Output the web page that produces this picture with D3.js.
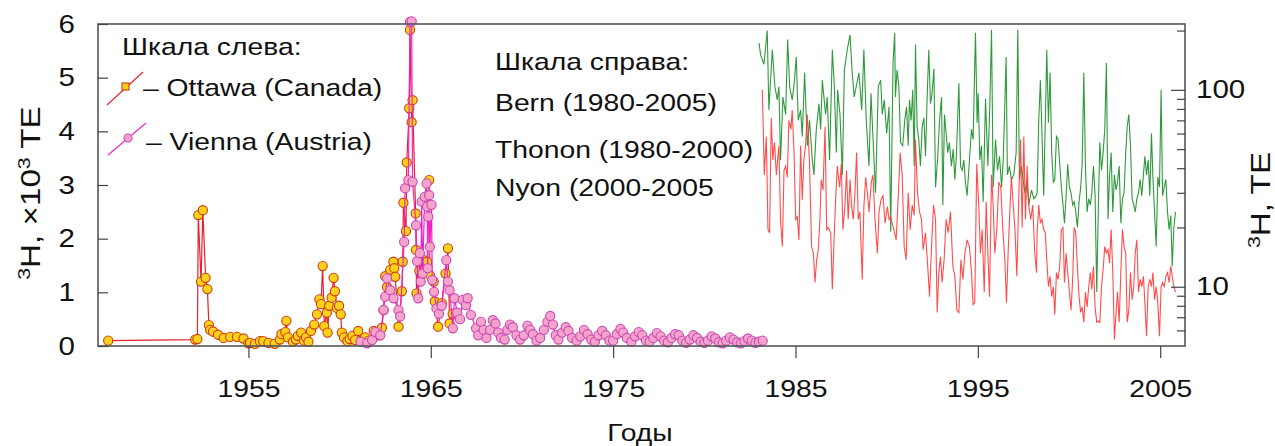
<!DOCTYPE html>
<html><head><meta charset="utf-8">
<script src="https://cdn.jsdelivr.net/npm/d3@7"></script>
<style>
body{margin:0;background:#fff}
text{font-family:"Liberation Sans",Arial,sans-serif;fill:#111}
</style>
</head><body>
<svg id="c" width="1275" height="446"></svg>
<script>
// ---------- DATA ----------
const xTicks = [1955, 1965, 1975, 1985, 1995, 2005];
const leftTicks = [0, 1, 2, 3, 4, 5, 6];
const rightMajor = [10, 100];
const rightMinor = [6, 7, 8, 9, 20, 30, 40, 50, 60, 70, 80, 90, 200];

// Ottawa (Canada), x10^3 TE  [year, value]
const ottawa = [
[1947.31,0.10],[1952.08,0.12],[1952.20,0.13],[1952.25,2.44],[1952.40,1.20],[1952.50,2.53],[1952.65,1.27],[1952.75,1.06],
[1952.83,0.39],[1952.90,0.30],[1953.06,0.27],[1953.33,0.21],[1953.64,0.15],[1954.00,0.17],[1954.37,0.17],[1954.73,0.14],
[1955.00,0.05],[1955.09,0.06],[1955.36,0.04],[1955.63,0.09],[1955.81,0.09],[1956.10,0.06],[1956.44,0.04],[1956.72,0.12],
[1956.81,0.22],[1957.02,0.26],[1957.08,0.47],[1957.17,0.16],[1957.44,0.08],[1957.60,0.12],[1957.71,0.19],[1957.89,0.25],
[1958.05,0.10],[1958.16,0.16],[1958.29,0.08],[1958.43,0.28],[1958.61,0.40],[1958.76,0.59],[1958.89,0.87],[1958.98,0.78],
[1959.07,1.49],[1959.16,0.37],[1959.30,0.62],[1959.34,0.25],[1959.43,0.75],[1959.56,0.90],[1959.67,1.27],[1959.74,1.02],
[1959.85,0.71],[1959.97,0.75],[1960.06,0.59],[1960.12,0.25],[1960.24,0.16],[1960.43,0.09],[1960.55,0.13],[1960.70,0.19],
[1960.85,0.11],[1961.02,0.28],[1961.20,0.10],[1961.40,0.16],[1961.60,0.10],[1961.87,0.28],[1962.10,0.20],[1962.32,0.34],
[1962.41,0.67],[1962.50,1.30],[1962.60,1.10],[1962.78,1.42],[1962.95,1.57],[1963.00,1.45],[1963.05,1.29],[1963.23,0.36],
[1963.41,1.02],[1963.46,1.57],[1963.50,2.67],[1963.64,2.14],[1963.68,3.42],[1963.82,4.43],[1963.86,5.89],[1963.95,4.17],
[1964.00,4.58],[1964.17,2.47],[1964.19,1.79],[1964.22,0.98],[1964.37,1.40],[1964.60,1.60],[1964.80,1.57],[1964.91,3.09],
[1964.95,1.32],[1965.16,1.20],[1965.22,0.83],[1965.40,0.36],[1965.60,0.80],[1965.81,1.35],[1965.94,1.82],[1966.03,0.42],
[1966.20,0.60]
];

// Vienna (Austria), x10^3 TE  [year, value]
const vienna = [
[1961.15,0.08],[1961.51,0.05],[1961.78,0.11],[1961.96,0.26],[1962.23,0.20],[1962.41,0.67],[1962.50,0.92],[1962.60,1.26],
[1962.78,1.04],[1962.96,0.89],[1963.23,0.67],[1963.32,0.55],[1963.54,1.94],[1963.59,2.94],[1963.77,3.09],[1963.86,6.04],
[1963.95,6.05],[1964.00,3.06],[1964.19,2.25],[1964.25,1.58],[1964.31,0.89],[1964.40,1.73],[1964.45,1.20],[1964.50,2.69],
[1964.55,1.35],[1964.67,2.78],[1964.77,3.03],[1964.80,2.60],[1964.83,1.45],[1964.86,2.41],[1964.91,2.81],[1964.95,1.85],
[1965.04,2.63],[1965.08,1.23],[1965.18,1.01],[1965.31,0.70],[1965.45,0.60],[1965.60,0.75],[1965.85,1.60],[1965.94,1.20],
[1966.03,1.04],[1966.21,0.33],[1966.30,0.89],[1966.45,0.62],[1966.60,0.50],[1966.75,0.86],[1966.93,0.76],[1967.02,0.89],
[1967.20,0.58],[1967.48,0.33],[1967.60,0.20],[1967.75,0.45],[1967.90,0.30],[1968.05,0.15],[1968.25,0.30],[1968.40,0.48],
[1968.55,0.42],[1968.70,0.25],[1968.85,0.15],[1969.05,0.12],[1969.20,0.30],[1969.35,0.40],[1969.50,0.35],[1969.70,0.20],
[1969.90,0.12],[1970.10,0.20],[1970.30,0.38],[1970.45,0.30],[1970.60,0.22],[1970.80,0.10],[1971.00,0.15],[1971.20,0.30],
[1971.40,0.45],[1971.55,0.56],[1971.70,0.40],[1971.85,0.20],[1972.00,0.12],[1972.20,0.25],[1972.40,0.35],[1972.55,0.28],
[1972.75,0.15],[1973.00,0.10],[1973.20,0.18],[1973.40,0.30],[1973.60,0.22],[1973.80,0.12],[1974.00,0.08],[1974.20,0.20],
[1974.40,0.28],[1974.60,0.20],[1974.80,0.10],[1975.00,0.10],[1975.20,0.22],[1975.40,0.32],[1975.55,0.25],[1975.75,0.15],
[1976.00,0.08],[1976.20,0.18],[1976.40,0.26],[1976.60,0.20],[1976.80,0.10],[1977.00,0.08],[1977.20,0.15],[1977.40,0.24],
[1977.60,0.18],[1977.80,0.10],[1978.00,0.07],[1978.20,0.15],[1978.40,0.22],[1978.60,0.20],[1978.80,0.10],[1979.00,0.06],
[1979.20,0.12],[1979.40,0.20],[1979.60,0.15],[1979.80,0.08],[1980.00,0.06],[1980.20,0.10],[1980.40,0.18],[1980.60,0.14],
[1980.80,0.07],[1981.00,0.05],[1981.20,0.10],[1981.40,0.16],[1981.60,0.12],[1981.80,0.07],[1982.00,0.05],[1982.20,0.09],
[1982.40,0.14],[1982.60,0.10],[1982.80,0.06],[1983.00,0.08],[1983.20,0.10]
];

// Bern, TE (right log scale)  [year, value]
const bern = [
[1983.00,173],[1983.09,150],[1983.27,135],[1983.45,200],[1983.54,79],[1983.73,160],[1983.87,104],[1984.00,89],
[1984.09,104],[1984.18,44],[1984.31,92],[1984.46,75],[1984.57,180],[1984.68,104],[1984.82,89],[1984.93,108],
[1985.04,147],[1985.15,70],[1985.28,79],[1985.37,58],[1985.50,122],[1985.65,52],[1985.77,70],[1985.92,44],
[1986.01,37],[1986.14,63],[1986.29,85],[1986.38,63],[1986.47,112],[1986.65,75],[1986.74,92],[1986.87,44],
[1987.02,160],[1987.13,104],[1987.24,48],[1987.31,100],[1987.44,75],[1987.57,37],[1987.68,126],[1987.84,160],
[1987.99,190],[1988.11,122],[1988.22,92],[1988.33,104],[1988.48,122],[1988.63,79],[1988.75,160],[1988.88,70],
[1989.03,41],[1989.14,96],[1989.27,52],[1989.39,30],[1989.54,104],[1989.67,112],[1989.76,75],[1989.87,89],
[1990.00,60],[1990.13,82],[1990.22,19],[1990.35,137],[1990.44,195],[1990.48,92],[1990.57,126],[1990.67,104],
[1990.76,54],[1990.88,52],[1990.99,70],[1991.09,82],[1991.18,52],[1991.25,89],[1991.34,70],[1991.43,100],
[1991.51,41],[1991.58,170],[1991.67,65],[1991.76,56],[1991.85,41],[1991.95,65],[1992.04,72],[1992.13,46],
[1992.22,92],[1992.31,160],[1992.40,85],[1992.49,96],[1992.59,128],[1992.68,32],[1992.79,44],[1992.90,70],
[1993.01,92],[1993.08,26],[1993.17,75],[1993.26,60],[1993.35,48],[1993.44,54],[1993.55,41],[1993.65,50],
[1993.74,35],[1993.83,48],[1993.96,108],[1994.05,41],[1994.14,39],[1994.23,44],[1994.32,34],[1994.41,29],
[1994.54,44],[1994.65,63],[1994.74,56],[1994.87,195],[1994.96,68],[1995.02,96],[1995.11,44],[1995.20,52],
[1995.29,27],[1995.42,90],[1995.55,41],[1995.66,85],[1995.75,202],[1995.84,32],[1995.97,56],[1996.08,39],
[1996.19,46],[1996.30,32],[1996.39,44],[1996.48,85],[1996.55,147],[1996.62,37],[1996.73,41],[1996.84,35],
[1996.97,37],[1997.10,48],[1997.19,202],[1997.28,35],[1997.39,41],[1997.48,35],[1997.58,30],[1997.69,35],
[1997.79,26],[1997.94,31],[1998.07,28],[1998.20,29],[1998.25,30],[1998.34,70],[1998.43,112],[1998.52,58],
[1998.61,29],[1998.70,70],[1998.78,160],[1998.87,68],[1998.96,122],[1999.05,48],[1999.14,34],[1999.22,35],
[1999.31,58],[1999.40,56],[1999.49,42],[1999.58,32],[1999.67,26],[1999.75,21],[1999.84,29],[1999.93,42],
[2000.02,32],[2000.11,30],[2000.20,26],[2000.28,27],[2000.37,24],[2000.46,20],[2000.55,27],[2000.64,32],
[2000.72,42],[2000.81,122],[2000.90,41],[2000.99,24],[2001.08,28],[2001.17,26],[2001.25,30],[2001.34,41],
[2001.43,29],[2001.52,9.4],[2001.61,26],[2001.69,54],[2001.78,39],[2001.87,48],[2001.96,63],[2002.05,137],
[2002.14,22],[2002.22,36],[2002.31,48],[2002.40,24],[2002.49,37],[2002.58,31],[2002.66,34],[2002.75,41],
[2002.84,21],[2002.93,28],[2003.02,30],[2003.11,48],[2003.19,65],[2003.28,75],[2003.37,52],[2003.46,28],
[2003.55,26],[2003.63,24],[2003.72,28],[2003.81,30],[2003.90,35],[2003.99,29],[2004.08,37],[2004.16,46],
[2004.25,37],[2004.34,44],[2004.43,29],[2004.52,60],[2004.60,36],[2004.69,24],[2004.78,16],[2004.87,36],
[2004.96,32],[2005.05,100],[2005.13,29],[2005.22,32],[2005.31,35],[2005.40,24],[2005.49,19.5],[2005.58,23],
[2005.66,12.7],[2005.75,20],[2005.84,24]
];

// Thonon (to 2000) and Nyon (2000-2005), TE  [year, value]
const thonon = [
[1983.18,100],[1983.29,37],[1983.40,58],[1983.49,19.5],[1983.58,18.8],[1983.67,72],[1983.76,44],[1983.85,54],
[1983.95,37],[1984.09,52],[1984.18,21.9],[1984.28,16],[1984.37,39],[1984.46,41],[1984.55,36],[1984.64,70],
[1984.75,63],[1984.82,79],[1984.92,48],[1985.01,22],[1985.10,22.7],[1985.19,17.3],[1985.28,52],[1985.37,27.7],
[1985.46,44],[1985.55,52],[1985.65,75],[1985.77,42],[1985.88,16],[1985.98,14.8],[1986.07,10.5],[1986.16,13.7],
[1986.25,15.4],[1986.34,21.9],[1986.41,35],[1986.51,31],[1986.62,65],[1986.71,19.5],[1986.80,20],[1986.93,18.8],
[1987.02,9.7],[1987.11,16.8],[1987.20,27.7],[1987.29,41],[1987.42,32],[1987.51,42],[1987.60,19.5],[1987.71,25.5],
[1987.80,39],[1987.89,22],[1987.99,35],[1988.08,25.5],[1988.17,22],[1988.26,30],[1988.35,48],[1988.44,22],
[1988.53,24],[1988.66,10.9],[1988.75,25.5],[1988.85,36],[1988.94,30],[1989.03,24],[1989.16,34],[1989.25,37],
[1989.36,22],[1989.49,14.8],[1989.58,24],[1989.69,27.7],[1989.80,29],[1989.91,21],[1990.04,25.5],[1990.13,22],
[1990.22,22.7],[1990.30,21],[1990.39,19.5],[1990.52,17.3],[1990.63,28],[1990.74,48],[1990.85,37],[1990.96,16],
[1991.07,13.7],[1991.18,30],[1991.29,19.5],[1991.40,26],[1991.51,23],[1991.58,56],[1991.69,30],[1991.80,24],
[1991.91,22],[1992.00,15.4],[1992.13,18.8],[1992.24,13.2],[1992.35,8.9],[1992.46,16],[1992.57,26],[1992.68,22],
[1992.77,7.4],[1992.86,11.8],[1992.95,14.2],[1993.04,10.5],[1993.15,13.7],[1993.26,22],[1993.37,18.8],[1993.50,24],
[1993.63,12.7],[1993.74,11.3],[1993.85,7.6],[1993.96,7.4],[1994.07,13.7],[1994.18,10.9],[1994.29,14.8],[1994.41,17.3],
[1994.54,16],[1994.65,11.8],[1994.74,8.1],[1994.83,8.3],[1994.94,42],[1995.05,26],[1995.14,14.8],[1995.24,19.5],
[1995.35,9.4],[1995.46,27],[1995.55,14.8],[1995.64,8.9],[1995.75,37],[1995.84,26],[1995.93,14.8],[1996.04,19.5],
[1996.15,34],[1996.26,32],[1996.37,19.5],[1996.48,13.7],[1996.57,8.3],[1996.66,14.8],[1996.77,26],[1996.84,36],
[1996.94,26],[1997.03,20],[1997.14,11.3],[1997.25,30],[1997.34,56],[1997.43,20],[1997.52,58],[1997.61,22],
[1997.70,41],[1997.79,26],[1997.90,22],[1998.01,26],[1998.12,14.8],[1998.22,11.8],[1998.25,18.8],[1998.34,26],
[1998.43,21],[1998.52,22],[1998.61,19.5],[1998.70,18.8],[1998.78,13.7],[1998.87,10],[1998.96,11.3],[1999.05,8.9],
[1999.14,10],[1999.22,7.2],[1999.31,11.8],[1999.40,10.9],[1999.49,12.7],[1999.58,19.5],[1999.67,20],[1999.75,10.5],
[1999.84,14.8],[1999.93,11.8]
];
const nyon = [
[2000.02,9.4],[2000.11,7.6],[2000.20,10.9],[2000.28,20],[2000.37,18.8],[2000.46,12.7],[2000.55,8.9],[2000.64,7.4],
[2000.72,7.9],[2000.81,6.6],[2000.90,9.4],[2000.99,7.9],[2001.08,10],[2001.17,11.8],[2001.25,9.7],[2001.34,12.7],
[2001.43,7.9],[2001.52,6.6],[2001.61,6.7],[2001.69,6.6],[2001.78,10],[2001.87,12.2],[2001.96,16],[2002.05,14.8],
[2002.14,15.4],[2002.22,13.2],[2002.31,19.5],[2002.40,11.8],[2002.49,5.4],[2002.58,7.4],[2002.66,9.4],[2002.75,6.6],
[2002.84,11.8],[2002.93,19.5],[2003.02,16],[2003.11,14.8],[2003.19,6.6],[2003.28,7.6],[2003.37,11.8],[2003.46,8.6],
[2003.55,10],[2003.63,14.8],[2003.72,17.3],[2003.81,9.4],[2003.90,10.9],[2003.99,10],[2004.08,11.3],[2004.16,8.3],
[2004.25,5.6],[2004.34,10],[2004.43,10.9],[2004.52,10],[2004.60,11.8],[2004.69,8.6],[2004.78,10],[2004.87,8.3],
[2004.96,5.6],[2005.05,10],[2005.13,10.5],[2005.22,10],[2005.31,11.3],[2005.40,11.8],[2005.49,10.5],[2005.58,12.7],
[2005.66,11.3],[2005.75,10],[2005.84,9.4]
];

// ---------- CHART ----------
const L = 98, R = 1185, T = 24, B = 346;
const SX = 1.18;       // horizontal stretch of the original lettering
const FS = 24;

const x = d3.scaleLinear().domain([1946.75, 2006.36]).range([L, R]);
const yL = d3.scaleLinear().domain([0, 6]).range([B, T]);
const yR = d3.scaleLog().domain([5, 216]).range([B, T]);

const svg = d3.select("#c");

svg.append("defs").append("clipPath").attr("id", "clip")
  .append("rect").attr("x", L).attr("y", T).attr("width", R - L).attr("height", B - T);

function txt(px, py, str, anchor, size) {
  return svg.append("text")
    .attr("transform", `translate(${px},${py}) scale(${SX},1)`)
    .attr("text-anchor", anchor || "start")
    .style("font-size", (size || FS) + "px")
    .text(str);
}

// right-scale series
const lineR = d3.line().x(d => x(d[0])).y(d => yR(d[1]));
const gR = svg.append("g").attr("clip-path", "url(#clip)");
gR.append("path").datum(bern).attr("d", lineR)
  .attr("fill", "none").attr("stroke", "#2f9a3c").attr("stroke-width", 1.1);
gR.append("path").datum(thonon.concat(nyon)).attr("d", lineR)
  .attr("fill", "none").attr("stroke", "#ff3a3a").attr("stroke-width", 1.1).attr("stroke-opacity", 0.9);

// left-scale series
const lineL = d3.line().x(d => x(d[0])).y(d => yL(d[1]));
svg.append("path").datum(ottawa).attr("d", lineL)
  .attr("fill", "none").attr("stroke", "#e8202c").attr("stroke-width", 1.2);
svg.append("g").selectAll("circle").data(ottawa).join("circle")
  .attr("cx", d => x(d[0])).attr("cy", d => yL(d[1])).attr("r", 4.6)
  .attr("fill", "#ffd21a").attr("stroke", "#cf3a10").attr("stroke-width", 1.1);

svg.append("path").datum(vienna).attr("d", lineL)
  .attr("fill", "none").attr("stroke", "#ee22cc").attr("stroke-width", 1.2);
svg.append("g").selectAll("circle").data(vienna).join("circle")
  .attr("cx", d => x(d[0])).attr("cy", d => yL(d[1])).attr("r", 4.6)
  .attr("fill", "#f5a3cb").attr("stroke", "#c848b8").attr("stroke-width", 1.1);

// frame
svg.append("rect").attr("x", L).attr("y", T).attr("width", R - L).attr("height", B - T)
  .attr("fill", "none").attr("stroke", "#555").attr("stroke-width", 1.6);

// bottom axis
const ax = svg.append("g").attr("transform", `translate(0,${B})`)
  .call(d3.axisBottom(x).tickValues(xTicks).tickSize(12).tickPadding(22).tickFormat(d3.format("d")));
ax.select(".domain").remove();
ax.selectAll(".tick line").attr("stroke", "#444").attr("stroke-width", 1.2);
ax.selectAll(".tick text").attr("transform", `scale(${SX},1)`)
  .style("font-size", FS + "px").style("font-family", '"Liberation Sans",Arial,sans-serif').attr("fill", "#111");

// left axis (ticks inward)
const al = svg.append("g").attr("transform", `translate(${L},0)`)
  .call(d3.axisRight(yL).tickValues(leftTicks).tickSize(10).tickFormat(""));
al.select(".domain").remove();
al.selectAll(".tick line").attr("stroke", "#444").attr("stroke-width", 1.2);
leftTicks.forEach(v => txt(75, yL(v) + 8.5, String(v), "end", 25));

// right axis (ticks inward)
const ar1 = svg.append("g").attr("transform", `translate(${R},0)`)
  .call(d3.axisLeft(yR).tickValues(rightMajor).tickSize(14).tickFormat(""));
const ar2 = svg.append("g").attr("transform", `translate(${R},0)`)
  .call(d3.axisLeft(yR).tickValues(rightMinor).tickSize(8).tickFormat(""));
[ar1, ar2].forEach(g => { g.select(".domain").remove(); g.selectAll(".tick line").attr("stroke", "#444").attr("stroke-width", 1.2); });
rightMajor.forEach(v => txt(1196, yR(v) + 8.5, String(v), "start", 25));

// axis titles
const tl = svg.append("text").attr("transform", "translate(40,193) rotate(-90) scale(1.33,1.08)")
  .attr("text-anchor", "middle").style("font-size", "25px");
tl.append("tspan").attr("dy", -9).style("font-size", "16px").text("3");
tl.append("tspan").attr("dy", 9).text("H, \u00d710");
tl.append("tspan").attr("dy", -9).style("font-size", "16px").text("3");
tl.append("tspan").attr("dy", 9).text(" TE");

const tr = svg.append("text").attr("transform", "translate(1270,200) rotate(-90) scale(1.33,1.08)")
  .attr("text-anchor", "middle").style("font-size", "25px");
tr.append("tspan").attr("dy", -9).style("font-size", "16px").text("3");
tr.append("tspan").attr("dy", 9).text("H, TE");

txt(640, 441, "Годы", "middle", 24);

// left legend
txt(122, 55, "Шкала слева:", "start");
svg.append("line").attr("x1", 107).attr("y1", 105).attr("x2", 143).attr("y2", 72)
  .attr("stroke", "#e8202c").attr("stroke-width", 1.1);
svg.append("rect").attr("x", 122).attr("y", 83).attr("width", 7).attr("height", 7)
  .attr("fill", "#ffd21a").attr("stroke", "#cf3a10").attr("stroke-width", 1.1);
txt(143, 96, "\u2013 Ottawa (Canada)", "start");
svg.append("line").attr("x1", 108).attr("y1", 155).attr("x2", 146).attr("y2", 123)
  .attr("stroke", "#ee22cc").attr("stroke-width", 1.1);
svg.append("circle").attr("cx", 128).attr("cy", 138).attr("r", 4)
  .attr("fill", "#f5a3cb").attr("stroke", "#c848b8").attr("stroke-width", 1.1);
txt(146, 150, "\u2013 Vienna (Austria)", "start");

// right legend
txt(495, 70, "Шкала справа:", "start");
txt(495, 111, "Bern (1980-2005)", "start");
txt(495, 158, "Thonon (1980-2000)", "start");
txt(495, 196, "Nyon (2000-2005", "start");
</script>
</body></html>
